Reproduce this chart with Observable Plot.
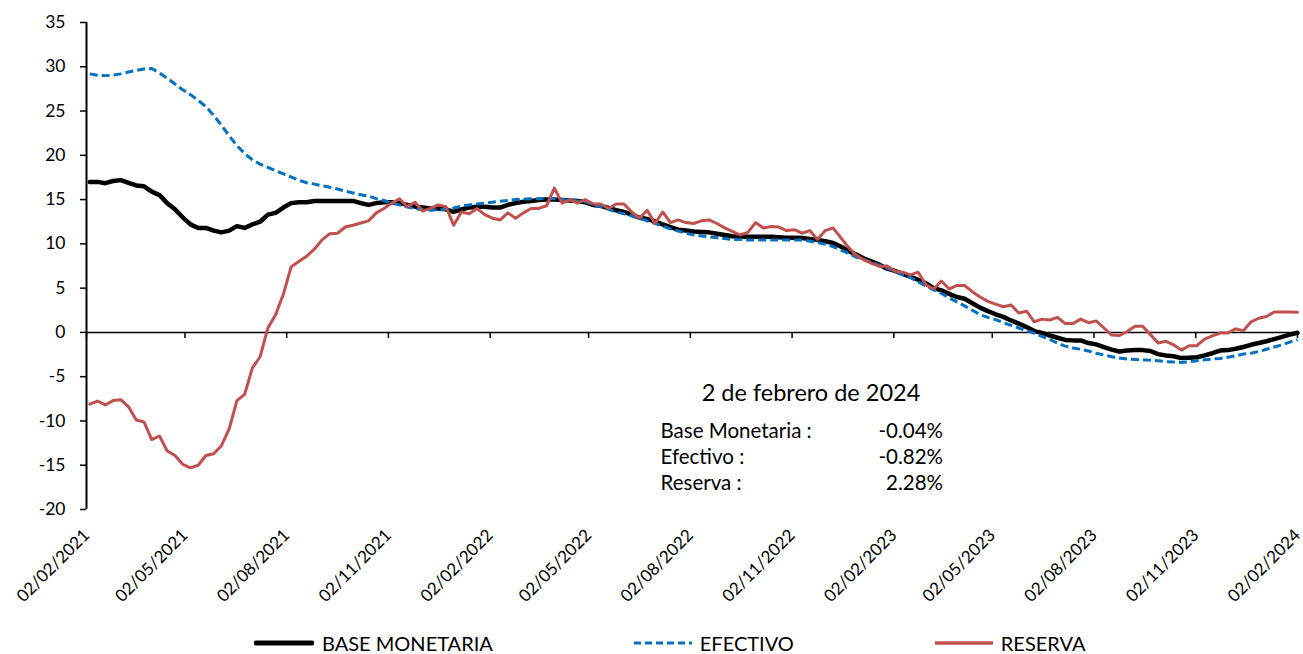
<!DOCTYPE html>
<html>
<head>
<meta charset="utf-8">
<script src="https://cdn.jsdelivr.net/npm/d3@7"></script>
<script src="https://cdn.jsdelivr.net/npm/@observablehq/plot@0.6"></script>
<style>
  html, body { margin: 0; padding: 0; background: #fff; }
  body { font-family: Lato, "Open Sans", sans-serif; color: #000; }
  #wrap { position: relative; width: 1303px; height: 654px; overflow: hidden; }
  #legend { position: absolute; left: 0; top: 633px; height: 20px; width: 1303px;
            display: flex; align-items: center; padding-left: 254px; box-sizing: border-box; gap: 141px; }
  .item { display: flex; align-items: center; gap: 8px; font-size: 20px; line-height: 20px; height: 20px; white-space: nowrap; }
  .item svg { display: block; }
</style>
</head>
<body>
<div id="wrap"></div>
<script>
// ---------------- data ----------------
// weekly observations (Fridays) from 05/02/2021 to 02/02/2024, annual % change
const dates = d3.utcFriday.range(new Date("2021-02-05"), new Date("2024-02-03"));

const baseMonetaria = [
  17.0, 17.0, 16.85, 17.1, 17.2, 16.9, 16.6, 16.5, 15.9, 15.5,
  14.6, 13.9, 13.0, 12.2, 11.8, 11.8, 11.5, 11.3, 11.5, 12.0,
  11.8, 12.2, 12.5, 13.3, 13.5, 14.1, 14.6, 14.7, 14.7, 14.85,
  14.85, 14.85, 14.85, 14.85, 14.85, 14.6, 14.4, 14.6, 14.7, 14.7,
  14.6, 14.4, 14.2, 14.1, 14.0, 14.0, 13.9, 13.6, 13.9, 14.1,
  14.2, 14.2, 14.1, 14.1, 14.4, 14.6, 14.75, 14.85, 14.95, 15.0,
  15.0, 14.95, 14.9, 14.85, 14.7, 14.4, 14.3, 14.05, 13.8, 13.6,
  13.3, 12.95, 12.8, 12.55, 12.2, 11.9, 11.6, 11.5, 11.4, 11.35,
  11.3, 11.15, 11.0, 10.85, 10.8, 10.8, 10.8, 10.8, 10.8, 10.75,
  10.7, 10.7, 10.65, 10.55, 10.45, 10.3, 10.1, 9.7, 9.2, 8.8,
  8.35, 8.0, 7.65, 7.2, 6.95, 6.6, 6.3, 5.95, 5.55, 5.0,
  4.75, 4.35, 4.0, 3.8, 3.3, 2.8, 2.4, 2.05, 1.75, 1.35,
  1.0, 0.6, 0.15, -0.05, -0.35, -0.6, -0.85, -0.9, -0.9, -1.2,
  -1.35, -1.65, -1.95, -2.15, -2.05, -2.0, -2.0, -2.1, -2.45, -2.6,
  -2.7, -2.9, -2.85, -2.8, -2.6, -2.35, -2.05, -2.0, -1.85, -1.65,
  -1.4, -1.2, -1.0, -0.75, -0.5, -0.25, -0.04
];

const efectivo = [
  29.2, 29.05, 29.0, 29.05, 29.2, 29.4, 29.6, 29.75, 29.8, 29.3,
  28.7, 28.05, 27.4, 26.85, 26.2, 25.5, 24.5, 23.4, 22.2, 21.1,
  20.2, 19.5, 19.0, 18.65, 18.25, 17.9, 17.55, 17.2, 16.9, 16.75,
  16.55, 16.4, 16.2, 15.95, 15.75, 15.55, 15.4, 15.1, 14.9, 14.6,
  14.4, 14.15, 14.0, 13.85, 13.8, 13.85, 13.9, 14.05, 14.25, 14.4,
  14.5, 14.6, 14.7, 14.8, 14.9, 15.0, 15.05, 15.1, 15.1, 15.15,
  15.1, 15.0, 14.9, 14.85, 14.75, 14.45, 14.2, 13.9, 13.6, 13.4,
  13.15, 12.9, 12.6, 12.3, 12.0, 11.7, 11.45, 11.2, 11.0, 10.9,
  10.8, 10.7, 10.6, 10.5, 10.5, 10.45, 10.45, 10.45, 10.45, 10.45,
  10.45, 10.45, 10.45, 10.3, 10.15, 9.95, 9.7, 9.3, 8.95, 8.5,
  8.25, 7.9, 7.6, 7.25, 6.9, 6.5, 6.2, 5.7, 5.25, 4.8,
  4.4, 3.9, 3.45, 3.0, 2.5, 2.0, 1.7, 1.45, 1.1, 0.8,
  0.5, 0.2, -0.1, -0.45, -0.8, -1.2, -1.55, -1.75, -1.9, -2.1,
  -2.35, -2.55, -2.75, -2.9, -3.0, -3.05, -3.1, -3.15, -3.2, -3.3,
  -3.35, -3.4, -3.3, -3.2, -3.1, -3.0, -2.95, -2.8, -2.65, -2.45,
  -2.35, -2.15, -1.9, -1.65, -1.4, -1.1, -0.82
];

const reserva = [
  -8.1, -7.75, -8.2, -7.7, -7.6, -8.4, -9.9, -10.1, -12.1, -11.7,
  -13.4, -13.9, -14.9, -15.3, -15.0, -13.9, -13.7, -12.8, -10.9, -7.7,
  -7.0, -4.0, -2.75, 0.5, 2.0, 4.3, 7.4, 8.0, 8.6, 9.4,
  10.45, 11.15, 11.2, 11.9, 12.1, 12.35, 12.6, 13.5, 14.0, 14.6,
  15.1, 14.2, 14.7, 13.7, 14.0, 14.4, 14.2, 12.1, 13.6, 13.4,
  14.0, 13.3, 12.9, 12.7, 13.5, 12.9, 13.5, 14.0, 14.0, 14.3,
  16.3, 14.6, 15.0, 14.6, 15.0, 14.5, 14.5, 14.0, 14.5, 14.5,
  13.6, 12.9, 13.8, 12.3, 13.6, 12.4, 12.7, 12.4, 12.3, 12.6,
  12.7, 12.3, 11.8, 11.4, 11.0, 11.3, 12.4, 11.8, 11.95, 11.9,
  11.5, 11.6, 11.2, 11.5, 10.5, 11.5, 11.8, 10.7, 9.6, 8.7,
  8.2, 7.8, 7.45, 7.5, 6.9, 6.8, 6.5, 6.8, 5.4, 4.9,
  5.8, 4.9, 5.3, 5.3, 4.6, 4.0, 3.5, 3.2, 2.9, 3.1,
  2.2, 2.4, 1.2, 1.5, 1.4, 1.7, 1.0, 1.0, 1.5, 1.1,
  1.3, 0.5, -0.3, -0.35, 0.1, 0.7, 0.7, -0.25, -1.2, -1.0,
  -1.4, -2.0, -1.5, -1.5, -0.75, -0.4, -0.07, -0.07, 0.4, 0.2,
  1.2, 1.6, 1.8, 2.3, 2.3, 2.3, 2.28
];

const xTickLabels = ["2021-02-02","2021-05-02","2021-08-02","2021-11-02","2022-02-02","2022-05-02",
  "2022-08-02","2022-11-02","2023-02-02","2023-05-02","2023-08-02","2023-11-02","2024-02-02"];
const yTicks = [-20, -15, -10, -5, 0, 5, 10, 15, 20, 25, 30, 35];

const seriesNames = ["BASE MONETARIA", "EFECTIVO", "RESERVA"];
const seriesColors = ["#000000", "#0070C0", "#C0504D"];

const annotTitle = "2 de febrero de 2024";
const annotLabels = ["Base Monetaria :", "Efectivo :", "Reserva :"];
const annotValues = ["-0.04%", "-0.82%", "2.28%"];

// ---------------- chart ----------------
const xTicks = xTickLabels.map(s => new Date(s));
const rows = dates.map((d, i) => ({date: d, base: baseMonetaria[i], efectivo: efectivo[i], reserva: reserva[i]}));

const W = 1303, H = 615, mT = 22, mB = 106, mL = 86, mR = 6;
const yDomain = [-20, 35];
const tickLen = 6 * (yDomain[1] - yDomain[0]) / (H - mT - mB);

const chart = Plot.plot({
  width: W, height: H,
  marginLeft: mL, marginRight: mR, marginTop: mT, marginBottom: mB,
  style: {fontFamily: "Lato, 'Open Sans', sans-serif", fontSize: "17px", color: "#000", background: "#fff", overflow: "visible"},
  x: {type: "utc", domain: [xTicks[0], xTicks[xTicks.length - 1]]},
  y: {domain: yDomain},
  marks: [
    Plot.axisY({ticks: yTicks, tickSize: 6, tickPadding: 15, label: null, fontSize: 17.5, strokeWidth: 1.5, tickFormat: d => String(d)}),
    Plot.axisX({ticks: xTicks, tickSize: 0, tickPadding: 23, tickRotate: -45, dx: 0, label: null, fontSize: 17,
                tickFormat: d3.utcFormat("%d/%m/%Y")}),
    Plot.ruleY([0], {stroke: "#000", strokeWidth: 1.5}),
    Plot.ruleX(xTicks, {y1: 0, y2: -tickLen, stroke: "#000", strokeWidth: 1.5}),
    Plot.ruleX([xTicks[0]], {stroke: "#000", strokeWidth: 2}),
    Plot.lineY(rows, {x: "date", y: "base", stroke: seriesColors[0], strokeWidth: 4.5}),
    Plot.lineY(rows, {x: "date", y: "efectivo", stroke: seriesColors[1], strokeWidth: 3, strokeDasharray: "8,4", strokeLinecap: "butt"}),
    Plot.lineY(rows, {x: "date", y: "reserva", stroke: seriesColors[2], strokeWidth: 3})
  ]
});

// annotation box
const svg = d3.select(chart);
const ann = svg.append("g").attr("font-family", "Lato, 'Open Sans', sans-serif").attr("fill", "#000").attr("text-anchor", "start");
ann.append("text").attr("x", 811).attr("y", 400.5).attr("text-anchor", "middle").attr("font-size", 23.5).text(annotTitle);
const rowY = [437.5, 463.5, 489.5];
annotLabels.forEach((t, i) => {
  ann.append("text").attr("x", 660.5).attr("y", rowY[i]).attr("text-anchor", "start").attr("font-size", 20.5).text(t);
  ann.append("text").attr("x", 943).attr("y", rowY[i]).attr("text-anchor", "end").attr("font-size", 20.5).text(annotValues[i]);
});

const wrap = document.getElementById("wrap");
wrap.appendChild(chart);

// legend
const legend = document.createElement("div");
legend.id = "legend";
seriesNames.forEach((name, i) => {
  const item = document.createElement("div");
  item.className = "item";
  const sw = i === 0 ? 60 : 58;
  const dash = i === 1 ? ` stroke-dasharray="7,4"` : "";
  const lw = i === 0 ? 5 : (i === 1 ? 3 : 3.5);
  const cap = i === 0 ? "round" : "butt";
  item.innerHTML = `<svg width="${sw}" height="10"><line x1="${i===0?2:0}" x2="${i===0?sw-2:sw}" y1="5" y2="5" stroke="${seriesColors[i]}" stroke-width="${lw}" stroke-linecap="${cap}"${dash}/></svg><span>${name}</span>`;
  legend.appendChild(item);
});
wrap.appendChild(legend);
</script>
</body>
</html>
